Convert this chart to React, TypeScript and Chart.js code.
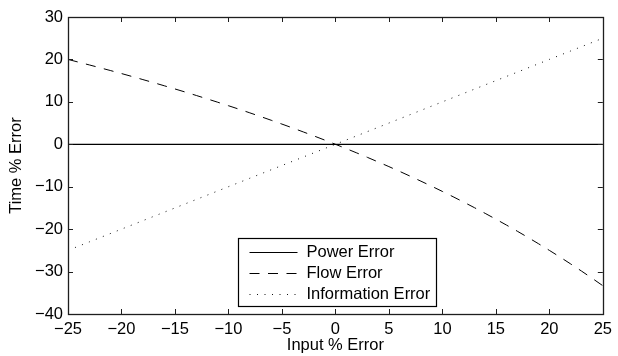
import { useEffect, useRef } from 'react';
import { Chart, registerables } from 'chart.js';

Chart.register(...registerables);

// ---- data ----
const inputError = [
  -25, -24, -23, -22, -21, -20, -19, -18, -17, -16, -15, -14, -13, -12, -11, -10, -9, -8, -7, -6, -5, -4, -3, -2, -1,
  0, 1, 2, 3, 4, 5, 6, 7, 8, 9, 10, 11, 12, 13, 14, 15, 16, 17, 18, 19, 20, 21, 22, 23, 24, 25,
];
const powerError = [
  0, 0, 0, 0, 0, 0, 0, 0, 0, 0, 0, 0, 0, 0, 0, 0, 0, 0, 0, 0, 0, 0, 0, 0, 0,
  0, 0, 0, 0, 0, 0, 0, 0, 0, 0, 0, 0, 0, 0, 0, 0, 0, 0, 0, 0, 0, 0, 0, 0, 0, 0,
];
const flowError = [
  20.0, 19.35, 18.7, 18.03, 17.36, 16.67, 15.97, 15.25, 14.53, 13.79, 13.04, 12.28, 11.5, 10.71, 9.91, 9.09, 8.26,
  7.41, 6.54, 5.66, 4.76, 3.85, 2.91, 1.96, 0.99, 0, -1.01, -2.04, -3.09, -4.17, -5.26, -6.38, -7.53, -8.7, -9.89,
  -11.11, -12.36, -13.64, -14.94, -16.28, -17.65, -19.05, -20.48, -21.95, -23.46, -25.0, -26.58, -28.21, -29.87,
  -31.58, -33.33,
];
const informationError = [
  -25, -24, -23, -22, -21, -20, -19, -18, -17, -16, -15, -14, -13, -12, -11, -10, -9, -8, -7, -6, -5, -4, -3, -2, -1,
  0, 1, 2, 3, 4, 5, 6, 7, 8, 9, 10, 11, 12, 13, 14, 15, 16, 17, 18, 19, 20, 21, 22, 23, 24, 25,
];
const seriesLabels = ['Power Error', 'Flow Error', 'Information Error'];
const xTicks = [-25, -20, -15, -10, -5, 0, 5, 10, 15, 20, 25];
const yTicks = [-40, -30, -20, -10, 0, 10, 20, 30];
const xTitle = 'Input % Error';
const yTitle = 'Time % Error';

const FONT = "'Liberation Sans', Arial, Helvetica, sans-serif";
const FONT_SIZE = 16.5;

const fmt = (v: number) => (v < 0 ? '\u2212' + Math.abs(v) : String(v));

const framePlugin = {
  id: 'frameTicks',
  afterDatasetsDraw(chart: any) {
    const { ctx, chartArea: a, scales } = chart;
    const L = 5;
    ctx.save();
    ctx.strokeStyle = '#1e1e1e';
    ctx.lineWidth = 1;
    ctx.beginPath();
    for (const v of xTicks) {
      const px = Math.round(scales.x.getPixelForValue(v)) + 0.5;
      ctx.moveTo(px, a.bottom);
      ctx.lineTo(px, a.bottom - L);
      ctx.moveTo(px, a.top);
      ctx.lineTo(px, a.top + L);
    }
    for (const v of yTicks) {
      const py = Math.round(scales.y.getPixelForValue(v)) + 0.5;
      ctx.moveTo(a.left, py);
      ctx.lineTo(a.left + L, py);
      ctx.moveTo(a.right, py);
      ctx.lineTo(a.right - L, py);
    }
    ctx.stroke();
    ctx.lineWidth = 1.3;
    ctx.strokeRect(
      Math.round(a.left) + 0.5,
      Math.round(a.top) + 0.5,
      Math.round(a.right - a.left),
      Math.round(a.bottom - a.top)
    );
    ctx.restore();
  },
};

const legendPlugin = {
  id: 'innerLegend',
  afterDraw(chart: any) {
    const { ctx, chartArea: a } = chart;
    const ds = chart.data.datasets;
    ctx.save();
    ctx.font = `${FONT_SIZE}px ${FONT}`;
    let maxW = 0;
    for (const d of ds) maxW = Math.max(maxW, ctx.measureText(d.label).width);
    const padL = 11;
    const sample = 48;
    const gap = 9;
    const padR = 6;
    const rowH = 21;
    const boxW = Math.round(padL + sample + gap + maxW + padR);
    const boxH = 68;
    const x0 = 238.5;
    const y0 = Math.round(a.bottom - 8 - boxH) + 0.5;
    ctx.fillStyle = '#ffffff';
    ctx.fillRect(x0, y0, boxW, boxH);
    ctx.strokeStyle = '#000000';
    ctx.lineWidth = 1.2;
    ctx.strokeRect(x0, y0, boxW, boxH);
    ds.forEach((d: any, i: number) => {
      const yc = Math.round(y0 + 13 + i * rowH) + 0.5;
      ctx.strokeStyle = d.borderColor;
      ctx.lineWidth = 1;
      ctx.setLineDash(d.borderDash || []);
      ctx.beginPath();
      ctx.moveTo(x0 + padL, yc);
      ctx.lineTo(x0 + padL + sample, yc);
      ctx.stroke();
      ctx.setLineDash([]);
      ctx.fillStyle = '#000000';
      ctx.textBaseline = 'middle';
      ctx.textAlign = 'left';
      ctx.fillText(d.label, x0 + padL + sample + gap, yc);
    });
    ctx.restore();
  },
};

export default function App() {
  const ref = useRef<HTMLCanvasElement | null>(null);

  useEffect(() => {
    if (!ref.current) return;
    const pts = (ys: number[]) => inputError.map((x, i) => ({ x, y: ys[i] }));
    const chart = new Chart(ref.current, {
      type: 'line',
      data: {
        datasets: [
          {
            label: seriesLabels[0],
            data: pts(powerError),
            borderColor: '#000000',
            borderWidth: 1.2,
            pointRadius: 0,
            borderDash: [],
          },
          {
            label: seriesLabels[1],
            data: pts(flowError),
            borderColor: '#000000',
            borderWidth: 1,
            pointRadius: 0,
            borderDash: [10, 8.5],
          },
          {
            label: seriesLabels[2],
            data: pts(informationError),
            borderColor: '#111111',
            borderWidth: 1,
            pointRadius: 0,
            borderDash: [1, 6.5],
          },
        ],
      },
      options: {
        animation: false,
        responsive: false,
        maintainAspectRatio: false,
        layout: { padding: { top: 17, right: 11, left: 0, bottom: 0 } },
        plugins: { legend: { display: false }, tooltip: { enabled: false } },
        elements: { line: { tension: 0 } },
        scales: {
          x: {
            type: 'linear',
            min: -25,
            max: 25,
            afterBuildTicks: (s: any) => {
              s.ticks = xTicks.map((v) => ({ value: v }));
            },
            afterFit: (s: any) => {
              s.height = 42;
            },
            grid: { display: false, drawTicks: false },
            border: { display: false },
            ticks: {
              color: '#000',
              padding: 6,
              maxRotation: 0,
              autoSkip: false,
              font: { family: FONT, size: FONT_SIZE },
              callback: (v: any) => fmt(Number(v)),
            },
            title: {
              display: true,
              text: xTitle,
              color: '#000',
              font: { family: FONT, size: FONT_SIZE },
              padding: { top: 0, bottom: 1 },
            },
          },
          y: {
            type: 'linear',
            min: -40,
            max: 30,
            afterBuildTicks: (s: any) => {
              s.ticks = yTicks.map((v) => ({ value: v }));
            },
            afterFit: (s: any) => {
              s.width = 68;
            },
            grid: { display: false, drawTicks: false },
            border: { display: false },
            ticks: {
              color: '#000',
              padding: 5,
              autoSkip: false,
              font: { family: FONT, size: FONT_SIZE },
              callback: (v: any) => fmt(Number(v)),
            },
            title: {
              display: true,
              text: yTitle,
              color: '#000',
              font: { family: FONT, size: FONT_SIZE },
              padding: { top: 7, bottom: 0 },
            },
          },
        },
      },
      plugins: [framePlugin, legendPlugin],
    });
    return () => chart.destroy();
  }, []);

  return (
    <div style={{ position: 'fixed', left: 0, top: 0, width: 618, height: 356, background: '#fff' }}>
      <canvas ref={ref} width={618} height={356} style={{ display: 'block', width: 618, height: 356 }} />
    </div>
  );
}
